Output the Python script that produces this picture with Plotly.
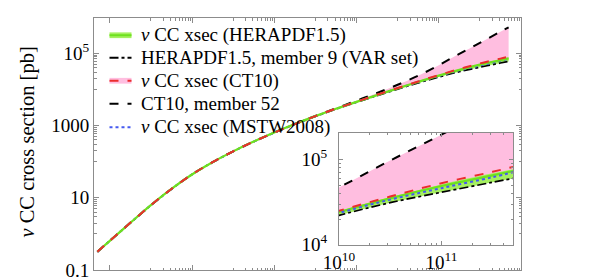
import plotly.graph_objects as go

# ---------------- data ----------------
energy_gev = [5.0e1, 1.0e2, 3.16e2, 1.0e3, 3.16e3, 1.0e4, 3.16e4, 1.0e5, 3.16e5, 1.0e6, 3.16e6,
              1.0e7, 3.16e7, 1.0e8, 3.16e8, 1.0e9, 3.16e9, 1.0e10, 3.16e10, 1.0e11, 3.16e11, 5.0e11]

hera_central = [0.32, 0.64, 2.02, 6.25, 17.6, 44.3, 96.8, 193, 360, 640, 1100,
                1825, 2925, 4530, 6980, 10700, 16200, 24200, 35000, 48800, 65100, 73000]
hera_band_high = [0.32, 0.64, 2.03, 6.28, 17.7, 44.5, 97.3, 194, 362, 643, 1106,
                  1840, 2960, 4600, 7100, 10950, 16650, 24800, 36200, 51000, 68800, 77000]
hera_member9 = [0.32, 0.64, 2.01, 6.22, 17.5, 44.1, 96.3, 192, 358, 635, 1090,
                1798, 2866, 4417, 6770, 10220, 15230, 22140, 31150, 41240, 54030, 59900]

ct10_central = [0.32, 0.64, 2.02, 6.25, 17.6, 44.3, 96.8, 193, 360, 641, 1102,
                1834, 2948, 4584, 7120, 10970, 16690, 25050, 36750, 52700, 71600, 81800]
ct10_band_low = [0.317, 0.634, 2.0, 6.19, 17.4, 43.9, 95.8, 191, 356, 634, 1089,
                 1820, 2920, 4520, 6960, 10650, 16100, 24000, 34700, 48300, 64500, 72300]
ct10_member52 = [0.32, 0.64, 2.02, 6.25, 17.6, 44.3, 96.8, 193, 361, 643, 1108,
                 1845, 3000, 4900, 8000, 13500, 24000, 47000, 97000, 195000, 400000, 525000]

mstw_central = [0.32, 0.64, 2.02, 6.25, 17.6, 44.3, 96.8, 193, 360, 638, 1097,
                1820, 2915, 4510, 6950, 10650, 16040, 23600, 33800, 46100, 61900, 70800]

legend_labels = ["<i>ν</i> CC xsec (HERAPDF1.5)",
                 "HERAPDF1.5, member 9 (VAR set)",
                 "<i>ν</i> CC xsec (CT10)",
                 "CT10, member 52",
                 "<i>ν</i> CC xsec (MSTW2008)"]

main_y_ticks = [0.1, 10, 1000, 1e5]
main_y_ticktext = ["0.1", "10", "1000", "10<sup>5</sup>"]
inset_x_ticks = [1e10, 1e11]
inset_x_ticktext = ["10<sup>10</sup>", "10<sup>11</sup>"]
inset_y_ticks = [1e4, 1e5]
inset_y_ticktext = ["10<sup>4</sup>", "10<sup>5</sup>"]

# ---------------- styles ----------------
FONT = "Liberation Serif"
GREEN_BAND = "rgb(165,240,95)"
GREEN_LINE = "rgb(110,225,30)"
PINK = "rgb(255,190,224)"
RED = "rgb(235,45,45)"
BLUE = "rgb(70,90,240)"
FRAME = "rgb(140,140,140)"

W, H = 598, 280
ML, MR, MT, MB = 86, 85, 10, 7
PW, PH = W - ML - MR, H - MT - MB


def px(x):
    return (x - ML) / PW


def py(y):
    return (H - MB - y) / PH


fig = go.Figure()


def add_set(xa, ya, blue_on_top):
    kw = dict(xaxis=xa, yaxis=ya, showlegend=False, hoverinfo="skip")
    fig.add_trace(go.Scatter(x=energy_gev, y=ct10_band_low, mode="lines",
                             line=dict(width=0, color=PINK, shape="spline"), **kw))
    fig.add_trace(go.Scatter(x=energy_gev, y=ct10_member52, mode="lines", fill="tonexty",
                             fillcolor=PINK, line=dict(width=0, color=PINK, shape="spline"), **kw))
    fig.add_trace(go.Scatter(x=energy_gev, y=hera_member9, mode="lines",
                             line=dict(width=0, color=GREEN_BAND, shape="spline"), **kw))
    fig.add_trace(go.Scatter(x=energy_gev, y=hera_band_high, mode="lines", fill="tonexty",
                             fillcolor=GREEN_BAND, line=dict(width=0, color=GREEN_BAND, shape="spline"), **kw))
    fig.add_trace(go.Scatter(x=energy_gev, y=ct10_member52, mode="lines",
                             line=dict(width=2, color="black", dash="dash", shape="spline"), **kw))
    fig.add_trace(go.Scatter(x=energy_gev, y=hera_member9, mode="lines",
                             line=dict(width=1.7, color="black", dash="dashdot", shape="spline"), **kw))
    blue = go.Scatter(x=energy_gev, y=mstw_central, mode="lines",
                      line=dict(width=2, color=BLUE, dash="dot", shape="spline"), **kw)
    if not blue_on_top:
        fig.add_trace(blue)
    fig.add_trace(go.Scatter(x=energy_gev, y=hera_central, mode="lines",
                             line=dict(width=2.2, color=GREEN_LINE, shape="spline"), **kw))
    if blue_on_top:
        fig.add_trace(blue)
    fig.add_trace(go.Scatter(x=energy_gev, y=ct10_central, mode="lines",
                             line=dict(width=2, color=RED, dash="dash", shape="spline"), **kw))


add_set("x", "y", False)
add_set("x2", "y2", True)


def minor_vals(exps, ks):
    return [k * 10.0 ** e for e in exps for k in ks]


axis_common = dict(type="log", showline=True, linecolor=FRAME, linewidth=1, mirror="ticks",
                   ticks="inside", tickcolor=FRAME, showgrid=False, zeroline=False,
                   tickfont=dict(family=FONT, size=19, color="black"))

fig.update_layout(
    width=W, height=H,
    margin=dict(l=ML, r=MR, t=MT, b=MB),
    paper_bgcolor="white", plot_bgcolor="white",
    showlegend=False,
    xaxis=dict(range=[1.617, 12.0], tickmode="array",
               tickvals=[1e2, 1e4, 1e6, 1e8, 1e10, 1e12], showticklabels=False,
               ticklen=5, tickwidth=1,
               minor=dict(tickmode="array", tickvals=minor_vals([3, 5, 7, 9, 11], range(1, 10)),
                          ticks="inside", ticklen=2.5, tickcolor=FRAME, showgrid=False),
               **axis_common),
    yaxis=dict(range=[-1.0, 5.98], tickmode="array",
               tickvals=main_y_ticks, ticktext=main_y_ticktext,
               ticklen=5, tickwidth=1,
               minor=dict(tickmode="array", tickvals=minor_vals([0, 2, 4], range(1, 10)),
                          ticks="inside", ticklen=2.5, tickcolor=FRAME, showgrid=False),
               **axis_common),
    xaxis2=dict(domain=[px(331), px(505)], anchor="y2", range=[10.0, 11.699],
                tickmode="array", tickvals=inset_x_ticks, ticktext=inset_x_ticktext,
                ticklen=4, tickwidth=1,
                minor=dict(tickmode="array",
                           tickvals=[k * 1e10 for k in range(2, 10)] + [k * 1e11 for k in range(2, 6)],
                           ticks="inside", ticklen=2, tickcolor=FRAME, showgrid=False),
                **axis_common),
    yaxis2=dict(domain=[py(246.7), py(130)], anchor="x2", range=[4.0, 5.31],
                tickmode="array", tickvals=inset_y_ticks, ticktext=inset_y_ticktext,
                ticklen=4, tickwidth=1, ticklabelstandoff=7,
                minor=dict(tickmode="array",
                           tickvals=[k * 1e4 for k in range(2, 10)] + [2e5],
                           ticks="inside", ticklen=2, tickcolor=FRAME, showgrid=False),
                **axis_common),
)

# ---------------- y-axis title ----------------
fig.add_annotation(text="<i>ν</i> CC cross section [pb]", xref="paper", yref="paper",
                   x=px(20), y=py(140), xanchor="center", yanchor="middle",
                   textangle=-90, showarrow=False,
                   font=dict(family=FONT, size=20.5, color="black"))

# ---------------- legend (drawn manually) ----------------
rows_y = [28, 51.5, 75.5, 99.5, 124]
sx0, sx1, tx = 101.5, 123.5, 131


def hline(y, color, width, dash="solid"):
    fig.add_shape(type="line", xref="paper", yref="paper", x0=px(sx0), x1=px(sx1),
                  y0=py(y), y1=py(y), line=dict(color=color, width=width, dash=dash))


def band(y, color):
    fig.add_shape(type="rect", xref="paper", yref="paper", x0=px(sx0), x1=px(sx1),
                  y0=py(y + 3), y1=py(y - 3), line=dict(width=0), fillcolor=color)


band(rows_y[0], GREEN_BAND)
hline(rows_y[0], GREEN_LINE, 2)
hline(rows_y[1], "black", 1.8, "dashdot")
band(rows_y[2], PINK)
hline(rows_y[2], RED, 2, "dash")
hline(rows_y[3], "black", 2, "dash")
hline(rows_y[4], BLUE, 2, "dot")

for yy, lab in zip(rows_y, legend_labels):
    fig.add_annotation(text=lab, xref="paper", yref="paper", x=px(tx), y=py(yy),
                       xanchor="left", yanchor="middle", showarrow=False,
                       font=dict(family=FONT, size=19, color="black"))

fig.write_html("out.html")
